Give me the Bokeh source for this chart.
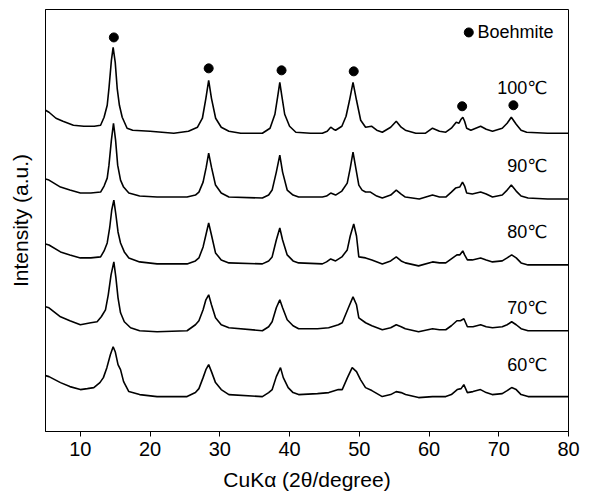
from bokeh.plotting import figure
from bokeh.models import Range1d, FixedTicker
from bokeh.core.properties import value
from bokeh.embed import file_html
from bokeh.resources import INLINE

# 2theta (degree) and intensity (a.u., offset stacked)
x100 = [5.0,5.5,6.5,7.5,9.0,10.5,12.0,12.9,13.4,13.85,14.1,14.45,14.7,15.0,15.28,15.6,16.0,16.7,17.5,20.0,
        23.4,25.5,26.8,27.5,28.0,28.4,28.8,29.4,30.2,31.3,33.0,36.1,37.2,37.9,38.3,38.6,38.9,39.3,40.0,40.9,
        43.0,44.7,45.4,45.9,46.3,46.6,47.5,48.1,48.6,49.1,49.6,50.2,50.9,51.75,52.5,53.3,54.5,55.3,56.0,56.6,
        58.1,59.5,60.5,61.5,62.4,63.2,63.9,64.3,64.6,64.85,65.1,65.4,66.0,67.4,68.2,69.1,70.5,71.2,71.8,72.5,
        73.2,74.0,77.0,80.0]
y100 = [322,320,314,311,307,306,306,307,315,327,344,372,385,370,344,327,315,304,302,301,
        299,301,305,314,334,352,334,314,305,301,299,299,304,318,336,350,336,318,306,300,
        299,299,301,305,303,302,306,316,332,350,332,312,305,306,302,300,305,311,305,302,
        299,299,304,301,300,304,310,309,313,315,311,304,302,306,303,301,304,309,315,308,
        302,300,299,299]

x90 = [5.0,5.5,7.15,8.5,10.0,11.5,12.9,13.4,13.85,14.1,14.45,14.75,15.05,15.35,15.76,16.2,16.95,18.5,21.0,25.3,
       26.5,27.0,27.6,28.05,28.4,28.8,29.38,30.2,31.3,36.1,37.0,37.5,38.1,38.6,39.0,39.66,40.5,41.3,44.7,45.3,
       45.9,46.6,47.5,48.27,48.7,49.1,49.5,49.93,50.4,50.9,51.6,52.5,53.3,54.5,55.3,56.0,56.6,58.6,60.5,61.5,
       62.4,63.2,63.8,64.4,64.8,65.1,65.4,66.2,67.4,68.2,69.1,70.5,71.2,71.8,72.5,73.2,74.2,77.0,80.0]
y90 = [253,252,245,242,239,239,240,246,254,267,292,309,292,267,252,245,239,236,235,235,
       237,240,250,265,279,265,247,239,235,234,237,242,260,277,260,242,237,235,235,236,
       239,237,241,249,264,280,264,247,242,240,240,236,234,237,242,238,235,233,237,235,
       235,240,244,245,250,246,239,238,240,238,235,237,242,247,241,236,234,233,233]

x80 = [5.0,5.5,7.15,8.5,10.0,11.5,12.9,13.4,13.85,14.2,14.5,14.8,15.1,15.4,15.76,16.3,16.95,18.5,21.0,25.3,
       26.5,27.0,27.6,28.0,28.4,28.8,29.38,30.2,31.3,36.1,37.0,37.5,38.1,38.6,39.0,39.66,40.5,41.3,44.7,45.3,
       45.9,46.6,47.5,48.27,48.7,49.2,49.6,49.93,50.9,51.8,53.3,54.5,55.3,56.0,56.6,58.5,60.5,61.5,62.4,63.2,
       64.0,64.4,64.84,65.1,65.5,66.2,67.4,68.2,69.1,70.5,71.2,71.85,72.5,73.2,74.2,77.0,80.0]
y80 = [188,187,180,177,174,174,175,181,189,204,222,232,217,200,189,180,174,170,168,168,
       171,174,185,197,209,197,179,172,169,168,171,175,192,204,192,177,171,169,168,170,
       173,171,175,182,196,208,196,175,174,172,168,171,175,171,169,166,170,169,169,173,
       177,177,181,177,172,172,174,172,170,171,174,177,174,169,167,167,167]

x70 = [5.0,5.5,7.15,8.5,10.0,11.5,12.4,13.0,13.6,14.0,14.4,14.8,15.1,15.4,15.76,16.3,17.2,18.5,21.0,25.3,
       26.5,27.0,27.6,28.0,28.4,28.8,29.38,30.2,31.3,36.1,37.0,37.5,38.1,38.6,39.0,39.66,40.5,41.3,44.0,45.6,
       47.0,47.55,48.5,49.1,49.6,49.93,50.9,51.8,53.3,54.5,55.3,56.0,56.6,58.5,60.5,61.5,62.4,63.2,64.0,64.5,
       65.0,65.5,66.3,67.4,68.2,69.1,70.5,71.2,71.85,72.5,73.2,74.2,77.0,80.0]
y70 = [125,124,115,111,107,109,110,115,122,137,157,170,154,134,119,110,104,101,100,101,
       107,111,122,132,137,127,114,107,104,101,105,110,124,132,124,112,106,103,103,104,
       107,109,125,135,127,114,109,106,102,104,107,105,103,100,103,102,102,106,111,111,
       113,105,105,107,105,104,105,107,110,107,103,101,101,101]

x60 = [5.0,5.5,7.15,8.5,10.0,11.0,11.93,12.8,13.3,13.8,14.3,14.7,15.0,15.4,15.76,16.2,16.95,18.5,21.0,25.3,
       26.5,27.0,27.6,28.0,28.4,28.8,29.38,30.2,31.3,36.1,37.0,37.51,38.1,38.7,39.1,39.8,40.5,41.3,44.0,45.63,
       47.0,47.55,48.3,48.98,49.6,50.17,50.89,51.8,53.29,54.5,55.29,56.0,56.63,58.5,60.5,62.4,63.2,64.04,64.6,64.99,
       65.5,66.3,67.38,68.2,69.06,70.5,71.2,71.85,72.5,73.2,74.2,77.0,80.0]
y60 = [56,55,49,45,42,43,44,49,54,64,77,85,80,67,62,50,40,37,35,35,
       39,43,54,62,67,60,49,42,37,35,39,42,55,64,54,44,39,37,38,39,
       42,42,54,64,60,52,44,41,35,37,40,39,37,34,35,35,37,42,43,47,
       39,40,42,39,37,38,41,44,42,37,35,35,35]

# Boehmite peak markers
boehmite_x = [14.8, 28.4, 38.85, 49.2, 64.75, 72.1]
boehmite_y = [395, 364, 362, 361, 326, 327]

# temperature labels
temp_labels = ["100\u2103", "90\u2103", "80\u2103", "70\u2103", "60\u2103"]
temp_label_y = [344, 266, 200, 124, 67]
temp_label_x = [77.0] * 5

legend_x = [65.7]
legend_y = [400]
legend_text = ["Boehmite"]

x_ticks = [10, 20, 30, 40, 50, 60, 70, 80]

FONT = "Liberation Sans, DejaVu Sans"

p = figure(width=589, height=493, output_backend="svg", toolbar_location=None,
           x_range=Range1d(5, 80), y_range=Range1d(0, 423),
           min_border_left=45, min_border_right=21, min_border_top=9, min_border_bottom=61)
p.background_fill_color = "white"
p.border_fill_color = "white"
p.outline_line_color = "black"
p.outline_line_width = 1
p.xgrid.visible = False
p.ygrid.visible = False

for xs, ys in [(x100, y100), (x90, y90), (x80, y80), (x70, y70), (x60, y60)]:
    p.line(xs, ys, line_color="black", line_width=1.6)

p.scatter(boehmite_x, boehmite_y, size=9, color="black")
p.scatter(legend_x, legend_y, size=9, color="black")
p.text(x=[v + 1.25 for v in legend_x], y=legend_y, text=legend_text,
       text_font=value(FONT), text_font_size="18px", text_align="left",
       text_baseline="middle", text_color="black")
p.text(x=temp_label_x, y=temp_label_y, text=temp_labels,
       text_font=value(FONT), text_font_size="18px", text_align="right",
       text_baseline="middle", text_color="black")

xa = p.xaxis[0]
xa.ticker = FixedTicker(ticks=x_ticks)
xa.major_tick_in = 0
xa.major_tick_out = 5
xa.minor_tick_line_color = None
xa.major_tick_line_color = "black"
xa.major_label_text_font = FONT
xa.major_label_text_font_size = "20px"
xa.major_label_text_color = "black"
xa.major_label_standoff = 5
xa.axis_label = "CuK\u03b1 (2\u03b8/degree)"
xa.axis_label_text_font = FONT
xa.axis_label_text_font_size = "21px"
xa.axis_label_text_font_style = "normal"
xa.axis_label_text_color = "black"
xa.axis_label_standoff = 9
xa.axis_line_color = "black"

ya = p.yaxis[0]
ya.ticker = FixedTicker(ticks=[])
ya.minor_tick_line_color = None
ya.major_tick_line_color = None
ya.axis_label = "Intensity (a.u.)"
ya.axis_label_text_font = FONT
ya.axis_label_text_font_size = "21px"
ya.axis_label_text_font_style = "normal"
ya.axis_label_text_color = "black"
ya.axis_label_standoff = 14
ya.axis_line_color = "black"

open("out.html", "w").write(file_html(p, INLINE))
